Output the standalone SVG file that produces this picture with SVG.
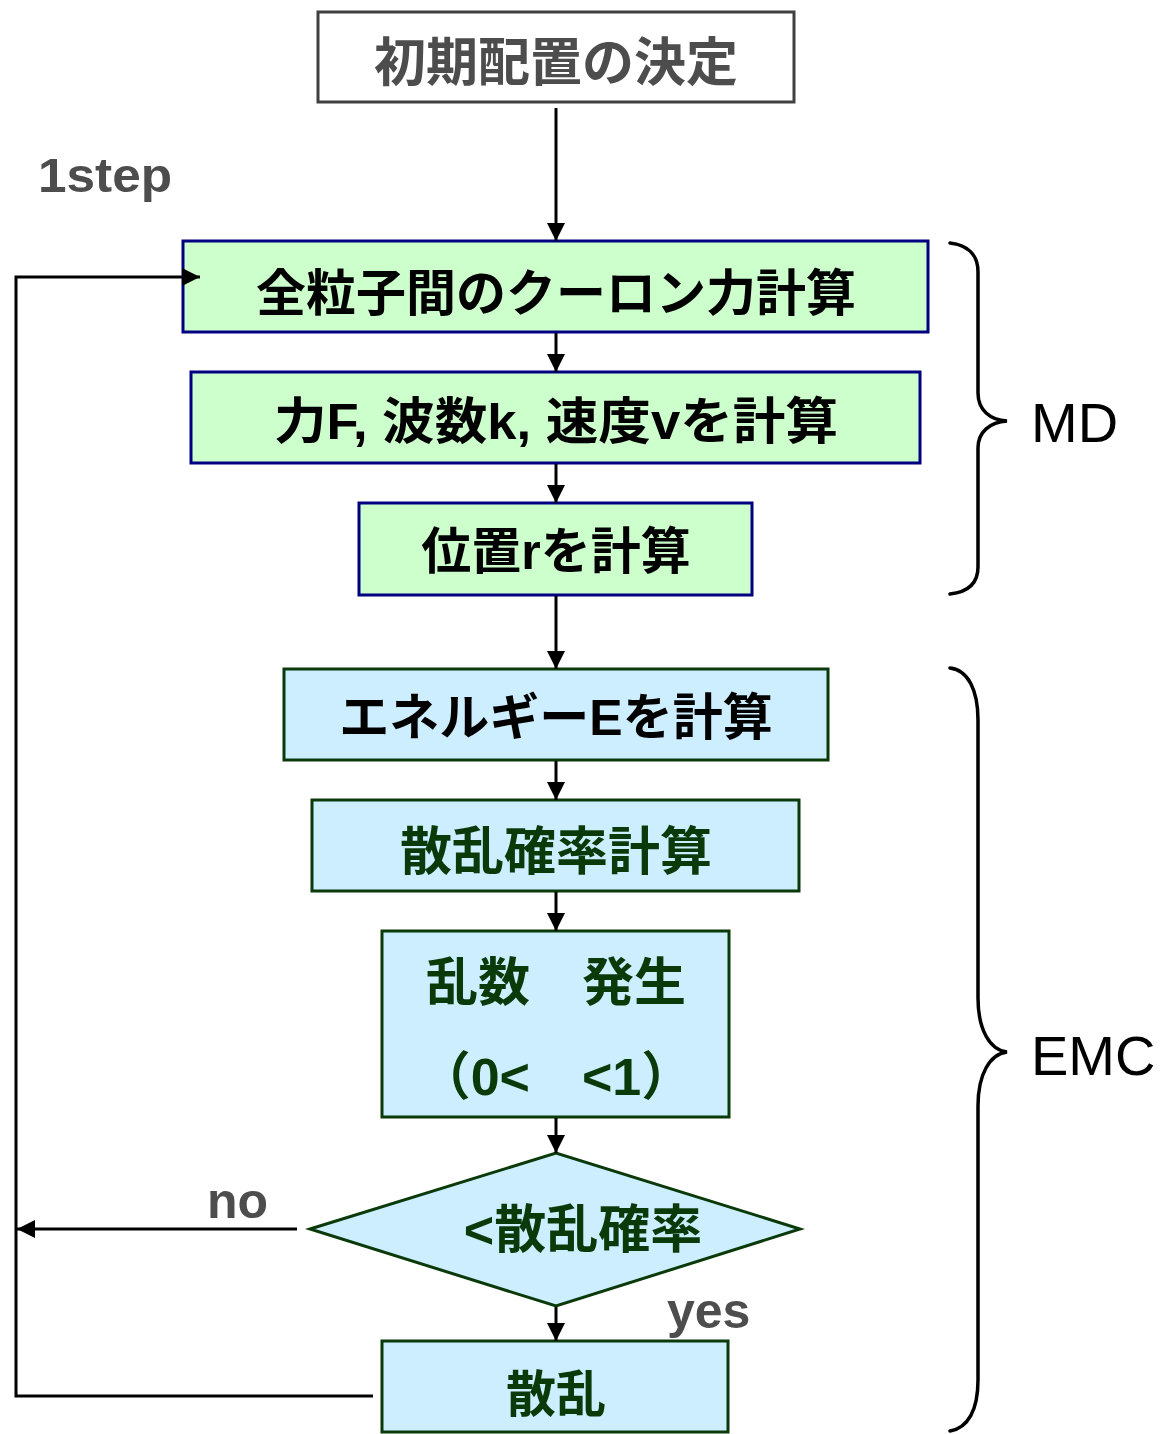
<svg xmlns="http://www.w3.org/2000/svg" width="1164" height="1434" viewBox="0 0 1164 1434">
<defs>
<marker id="ah" markerUnits="userSpaceOnUse" markerWidth="18" markerHeight="18" refX="18" refY="9" orient="auto">
<path d="M0,0 L18,9 L0,18 z" fill="#000"/>
</marker>
<style>
.jp{font-family:"Liberation Sans","Noto Sans CJK JP",sans-serif;font-weight:bold;text-anchor:middle}
.gray{fill:#4d4d4d}
.blk{fill:#000}
.dg{fill:#0a3a0a}
.md{stroke:#000080;stroke-width:3;fill:#ccffcc}
.emc{stroke:#0a3a0a;stroke-width:3;fill:#cdeeff}
.lbl{font-family:"Liberation Sans",sans-serif;font-weight:bold;fill:#4d4d4d}
.big{font-family:"Liberation Sans",sans-serif;font-size:56px;fill:#000}
.cn{stroke:#000;stroke-width:3;fill:none}
.br{stroke:#000;stroke-width:3.5;fill:none;stroke-linecap:round}
</style>
</defs>
<rect width="1164" height="1434" fill="#fff"/>

<g id="n0">
<rect x="318" y="12" width="476" height="90" fill="#fff" stroke="#404040" stroke-width="3"/>
<text class="jp gray" x="556" y="81" font-size="52">初期配置の決定</text>
</g>
<text id="step" class="lbl" x="38" y="192" font-size="49" textLength="134" lengthAdjust="spacingAndGlyphs">1step</text>

<g id="n1">
<rect class="md" x="183" y="241" width="745" height="91"/>
<text class="jp blk" x="556" y="311" font-size="50">全粒子間のクーロン力計算</text>
</g>
<g id="n2">
<rect class="md" x="191" y="372" width="729" height="91"/>
<text class="jp blk" x="556" y="439" font-size="50" textLength="564" lengthAdjust="spacingAndGlyphs">力F, 波数k, 速度vを計算</text>
</g>
<g id="n3">
<rect class="md" x="359" y="503" width="393" height="92"/>
<text class="jp blk" x="556" y="569" font-size="50">位置rを計算</text>
</g>
<g id="n4">
<rect class="emc" x="284" y="669" width="544" height="91"/>
<text class="jp blk" x="556" y="735" font-size="50">エネルギーEを計算</text>
</g>
<g id="n5">
<rect class="emc" x="312" y="800" width="487" height="91"/>
<text class="jp dg" x="556" y="870" font-size="52">散乱確率計算</text>
</g>
<g id="n6">
<rect class="emc" x="382" y="931" width="347" height="186"/>
<text class="jp dg" x="556" y="1001" font-size="52">乱数　発生</text>
<text class="jp dg" x="556" y="1095" font-size="52">（0&lt;　&lt;1）</text>
</g>
<g id="n7">
<polygon class="emc" points="310,1229 556,1153 800,1229 556,1306"/>
<text class="jp dg" x="583" y="1248" font-size="52">&lt;散乱確率</text>
</g>
<g id="n8">
<rect class="emc" x="382" y="1341" width="346" height="91"/>
<text class="jp dg" x="556" y="1412" font-size="50">散乱</text>
</g>

<text id="no" class="lbl" x="207" y="1218" font-size="50">no</text>
<text id="yes" class="lbl" x="667" y="1328" font-size="50">yes</text>

<g id="md-brace">
<path class="br" d="M950,243 C968,245 978,255 978,272 L978,393 C978,410 990,420 1007,421 C990,422 978,432 978,448 L978,567 C978,583 968,592 950,594"/>
<text class="big" x="1031" y="442">MD</text>
</g>
<g id="emc-brace">
<path class="br" d="M950,668 C968,670 978,690 978,720 L978,998 C978,1030 990,1050 1007,1052 C990,1054 978,1074 978,1106 L978,1380 C978,1410 968,1428 950,1431"/>
<text class="big" x="1031" y="1075">EMC</text>
</g>

<g id="connectors">
<line class="cn" x1="556" y1="108" x2="556" y2="241" marker-end="url(#ah)"/>
<line class="cn" x1="556" y1="333" x2="556" y2="372" marker-end="url(#ah)"/>
<line class="cn" x1="556" y1="464" x2="556" y2="503" marker-end="url(#ah)"/>
<line class="cn" x1="556" y1="596" x2="556" y2="669" marker-end="url(#ah)"/>
<line class="cn" x1="556" y1="761" x2="556" y2="800" marker-end="url(#ah)"/>
<line class="cn" x1="556" y1="892" x2="556" y2="931" marker-end="url(#ah)"/>
<line class="cn" x1="556" y1="1118" x2="556" y2="1153" marker-end="url(#ah)"/>
<line class="cn" x1="556" y1="1307" x2="556" y2="1341" marker-end="url(#ah)"/>
<line class="cn" x1="297" y1="1229" x2="17" y2="1229" marker-end="url(#ah)"/>
<polyline class="cn" points="373,1396 16,1396 16,277 200,277" marker-end="url(#ah)"/>
</g>
</svg>
